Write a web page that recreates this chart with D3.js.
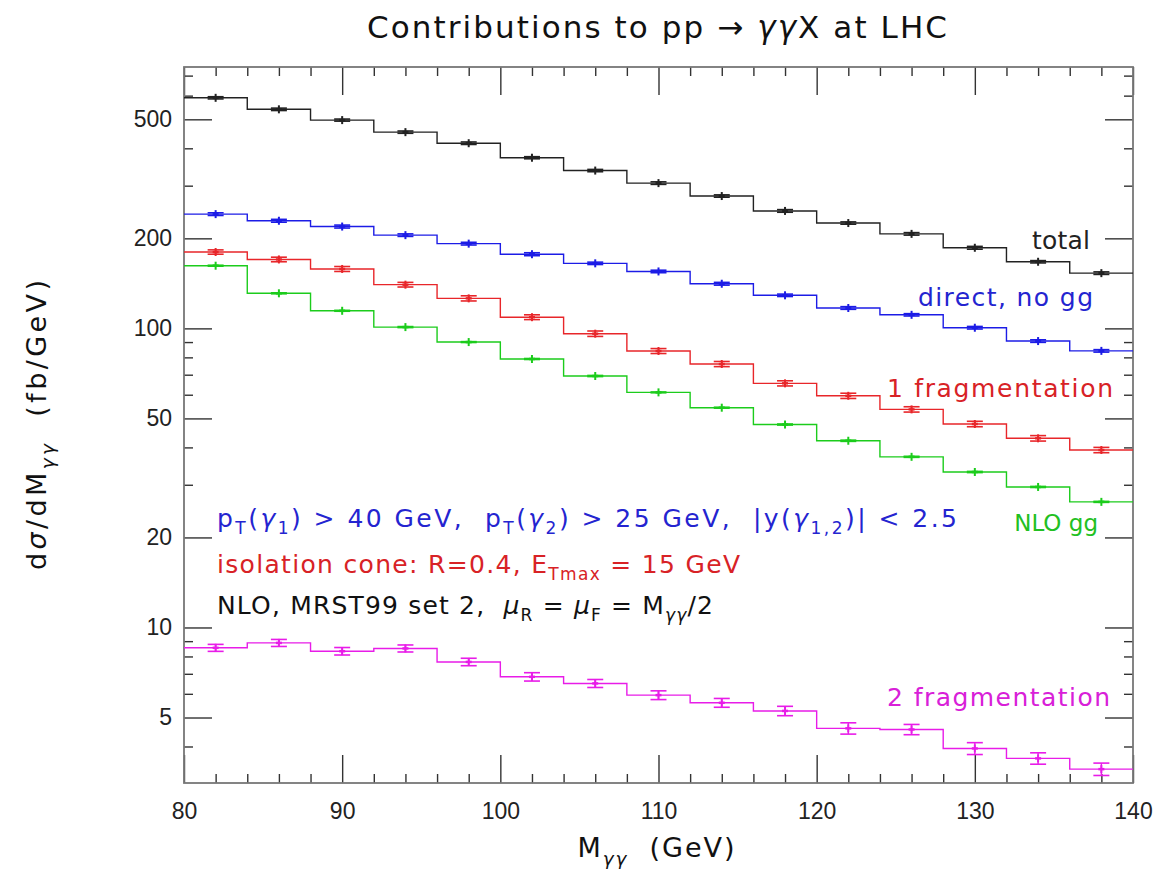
<!DOCTYPE html>
<html>
<head>
<meta charset="utf-8">
<script src="https://cdn.jsdelivr.net/npm/d3@7"></script>
<style>
  body { margin: 0; background: #fff; }
  svg text { white-space: pre; }
</style>
</head>
<body>
<div id="chart"></div>
<script>
// bins of M_gamma-gamma (GeV), lower edges, 4 GeV wide
const binLow = [80, 84, 88, 92, 96, 100, 104, 108, 112, 116, 120, 124, 128, 132, 136]
const binWidth = 4

// dsigma/dM (fb/GeV) per bin
const total    = [590, 540, 497, 453, 416, 372, 337, 306, 277, 247, 225, 207, 186, 167, 153]
const direct   = [241, 229, 219, 205, 192, 177, 165, 155, 141, 129, 117, 111, 100.5, 90.7, 84.1]
const frag1    = [180, 170, 158, 140, 126, 109, 96, 84, 76, 65.5, 59.5, 53.6, 47.9, 42.9, 39.2]
const nloGG    = [162, 131, 114.5, 101, 90, 79, 69.3, 61.1, 54.3, 47.7, 42.1, 37.2, 33.1, 29.5, 26.3]
const frag2    = [8.55, 8.88, 8.33, 8.51, 7.67, 6.84, 6.50, 5.94, 5.60, 5.26, 4.60, 4.56, 3.94, 3.65, 3.36]

// statistical errors
const totalErr  = [5, 5, 4, 4, 4, 3, 3, 3, 2.5, 2.5, 2, 2, 2, 1.5, 1.5]
const directErr = [2.5, 2.5, 2.5, 2, 2, 2, 1.5, 1.5, 1.5, 1.2, 1.2, 1, 1, 0.9, 0.8]
const frag1Err  = [3, 3, 3, 2.5, 2.5, 2, 2, 1.6, 1.5, 1.3, 1.2, 1.1, 1, 0.9, 0.8]
const nloGGErr  = [0.6, 0.5, 0.4, 0.4, 0.3, 0.3, 0.3, 0.2, 0.2, 0.2, 0.2, 0.15, 0.15, 0.12, 0.1]
const frag2Err  = [0.23, 0.24, 0.24, 0.23, 0.22, 0.22, 0.2, 0.2, 0.19, 0.19, 0.2, 0.18, 0.18, 0.16, 0.16]

// tick values
const xMajor = [80, 90, 100, 110, 120, 130, 140]
const xMinor = d3.range(80, 141, 2).filter(v => v % 10 !== 0)
const yMajor = [5, 10, 20, 50, 100, 200, 500]
const yMinor = [4, 6, 7, 8, 9, 30, 40, 60, 70, 80, 90, 300, 400, 600, 700]

const series = [
  {name: 'total', values: total, err: totalErr, color: '#222'},
  {name: 'direct', values: direct, err: directErr, color: '#1c1ce6'},
  {name: 'frag1', values: frag1, err: frag1Err, color: '#e8262a'},
  {name: 'nloGG', values: nloGG, err: nloGGErr, color: '#1ccc1c'},
  {name: 'frag2', values: frag2, err: frag2Err, color: '#e81ce8'}
]

const TEXTFONT = '"DejaVu Sans", "Liberation Sans", sans-serif'
const SANS = '"Liberation Sans", "DejaVu Sans", sans-serif'

const width = 1158, height = 870
const margin = {top: 67, right: 25, bottom: 87, left: 184}

const svg = d3.select('#chart').append('svg')
  .attr('width', width)
  .attr('height', height)

const xScale = d3.scaleLinear()
  .domain([80, 140])
  .range([margin.left, width - margin.right])

const yScale = d3.scaleLog()
  .domain([3.02, 748])
  .range([height - margin.bottom, margin.top])

const x0 = margin.left, x1 = width - margin.right
const y0 = height - margin.bottom, y1 = margin.top

// axes: major ticks long, minor short, mirrored on all four sides
function styleAxis(g) {
  g.attr('font-family', SANS)
  g.select('.domain').remove()
  g.selectAll('line').attr('stroke', '#333').attr('stroke-width', 1.4)
  g.selectAll('text').attr('fill', '#222').attr('font-size', 23)
}

svg.append('g').attr('transform', `translate(0,${y0})`)
  .call(d3.axisBottom(xScale).tickValues(xMajor).tickSize(-28).tickPadding(20).tickFormat(d3.format('d')))
  .call(styleAxis)
svg.append('g').attr('transform', `translate(0,${y0})`)
  .call(d3.axisBottom(xScale).tickValues(xMinor).tickSize(-9).tickFormat(''))
  .call(styleAxis)
svg.append('g').attr('transform', `translate(0,${y1})`)
  .call(d3.axisTop(xScale).tickValues(xMajor).tickSize(-28).tickFormat(''))
  .call(styleAxis)
svg.append('g').attr('transform', `translate(0,${y1})`)
  .call(d3.axisTop(xScale).tickValues(xMinor).tickSize(-9).tickFormat(''))
  .call(styleAxis)

svg.append('g').attr('transform', `translate(${x0},0)`)
  .call(d3.axisLeft(yScale).tickValues(yMajor).tickSize(-28).tickPadding(12).tickFormat(d3.format('d')))
  .call(styleAxis)
svg.append('g').attr('transform', `translate(${x0},0)`)
  .call(d3.axisLeft(yScale).tickValues(yMinor).tickSize(-9).tickFormat(''))
  .call(styleAxis)
svg.append('g').attr('transform', `translate(${x1},0)`)
  .call(d3.axisRight(yScale).tickValues(yMajor).tickSize(-28).tickFormat(''))
  .call(styleAxis)
svg.append('g').attr('transform', `translate(${x1},0)`)
  .call(d3.axisRight(yScale).tickValues(yMinor).tickSize(-9).tickFormat(''))
  .call(styleAxis)

// frame
svg.append('rect')
  .attr('x', x0).attr('y', y1)
  .attr('width', x1 - x0).attr('height', y0 - y1)
  .attr('fill', 'none')
  .attr('stroke', '#777')
  .attr('stroke-width', 1.8)

// histograms
const stepLine = d3.line()
  .x(d => xScale(d[0]))
  .y(d => yScale(d[1]))
  .curve(d3.curveStepAfter)

const plotG = svg.append('g')

series.forEach(s => {
  const pts = binLow.map((b, i) => [b, s.values[i]])
  pts.push([binLow[binLow.length - 1] + binWidth, s.values[s.values.length - 1]])

  plotG.append('path')
    .attr('d', stepLine(pts))
    .attr('fill', 'none')
    .attr('stroke', s.color)
    .attr('stroke-width', 1.4)

  const cap = 8
  const pg = plotG.append('g').attr('stroke', s.color)
  binLow.forEach((b, i) => {
    const cx = xScale(b + binWidth / 2)
    const v = s.values[i], e = s.err[i]
    const cy = yScale(v), yLo = yScale(v - e), yHi = yScale(v + e)
    pg.append('line').attr('x1', cx).attr('x2', cx).attr('y1', yHi).attr('y2', yLo).attr('stroke-width', 1.4)
    pg.append('line').attr('x1', cx - cap).attr('x2', cx + cap).attr('y1', yHi).attr('y2', yHi).attr('stroke-width', 1.6)
    pg.append('line').attr('x1', cx - cap).attr('x2', cx + cap).attr('y1', yLo).attr('y2', yLo).attr('stroke-width', 1.6)
    // point marker
    pg.append('line').attr('x1', cx).attr('x2', cx).attr('y1', cy - 4).attr('y2', cy + 4).attr('stroke-width', 2)
    pg.append('line').attr('x1', cx - 3).attr('x2', cx + 3).attr('y1', cy).attr('y2', cy).attr('stroke-width', 2.5)
  })
})

// text with subscripts: segs = [[text, mode]], mode 's' sub, 'i' italic
function richText(g, x, y, segs, opt) {
  const t = g.append('text')
    .attr('x', x).attr('y', y)
    .attr('font-family', TEXTFONT)
    .attr('font-size', opt.size)
    .attr('fill', opt.color || '#111')
    .attr('text-anchor', opt.anchor || 'start')
  if (opt.rotate) t.attr('transform', `rotate(${opt.rotate},${x},${y})`)
  let shift = 0
  segs.forEach(([str, mode]) => {
    const ts = t.append('tspan').text(str)
    const sub = mode.includes('s')
    const target = sub ? opt.size * 0.28 : 0
    if (target !== shift) { ts.attr('dy', target - shift); shift = target }
    if (sub) ts.attr('font-size', opt.size * 0.68)
    if (mode.includes('i')) ts.attr('font-style', 'italic')
  })
  if (opt.len) t.attr('textLength', opt.len).attr('lengthAdjust', 'spacing')
  return t
}

const txt = svg.append('g')

richText(txt, 657, 38, [['Contributions to pp \u2192 ', ''], ['\u03b3\u03b3', 'i'], ['X at LHC', '']],
  {size: 31, color: '#111', anchor: 'middle', len: 580})

richText(txt, 656, 857, [['M', ''], ['\u03b3\u03b3', 'si'], ['  (GeV)', '']],
  {size: 27, color: '#111', anchor: 'middle', len: 157})

richText(txt, 46, 425, [['d', ''], ['\u03c3', 'i'], ['/dM', ''], ['\u03b3\u03b3', 'si'], ['  (fb/GeV)', '']],
  {size: 27, color: '#111', anchor: 'middle', rotate: -90, len: 290})

// curve labels
richText(txt, 1090, 249, [['total', '']], {size: 25, color: '#222', anchor: 'end', len: 58})
richText(txt, 1093, 306, [['direct, no gg', '']], {size: 25, color: '#2424d0', anchor: 'end', len: 175})
richText(txt, 1113, 397, [['1 fragmentation', '']], {size: 25, color: '#d82226', anchor: 'end', len: 226})
richText(txt, 1098, 531, [['NLO gg', '']], {size: 23, color: '#22c022', anchor: 'end'})
richText(txt, 1110, 706, [['2 fragmentation', '']], {size: 25, color: '#d820d8', anchor: 'end', len: 223})

// cut descriptions
richText(txt, 217, 527, [
  ['p', ''], ['T', 's'], ['(', ''], ['\u03b3', 'i'], ['1', 's'], [') > 40 GeV,  p', ''], ['T', 's'],
  ['(', ''], ['\u03b3', 'i'], ['2', 's'], [') > 25 GeV,  |y(', ''], ['\u03b3', 'i'], ['1,2', 's'], [')| < 2.5', '']
], {size: 25, color: '#2424d0', len: 740})

richText(txt, 217, 573, [['isolation cone: R=0.4, E', ''], ['Tmax', 's'], [' = 15 GeV', '']],
  {size: 25, color: '#d82226', len: 523})

richText(txt, 217, 614, [['NLO, MRST99 set 2,  ', ''], ['\u03bc', 'i'], ['R', 's'], [' = ', ''], ['\u03bc', 'i'], ['F', 's'],
  [' = M', ''], ['\u03b3\u03b3', 'si'], ['/2', '']],
  {size: 25, color: '#111', len: 496})
</script>
</body>
</html>
